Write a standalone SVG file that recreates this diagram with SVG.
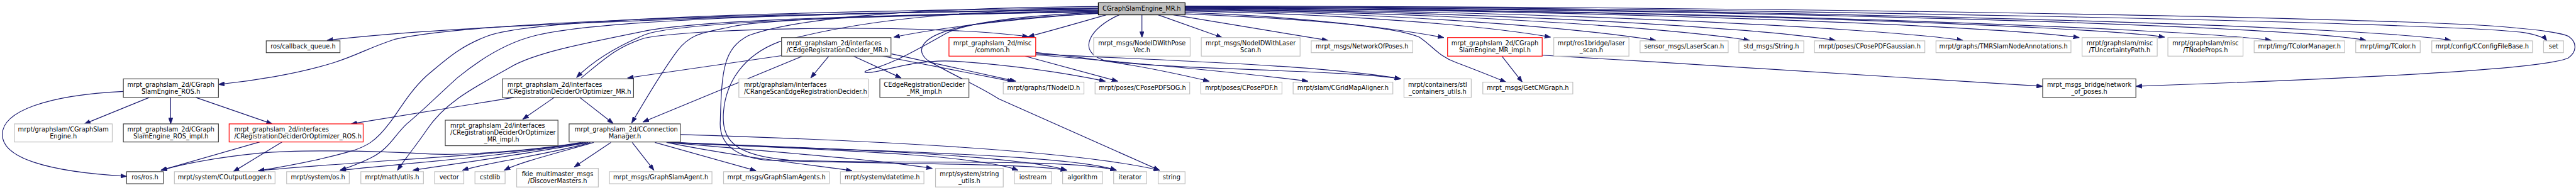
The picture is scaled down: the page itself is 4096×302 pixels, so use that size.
<svg xmlns="http://www.w3.org/2000/svg" width="4096" height="302" viewBox="0 0 4096 302">
<style>
.n rect{fill:#fff;stroke-width:1.6}
.d rect{stroke:#404040}
.g rect{stroke:#bfbfbf}
.r rect{stroke:#ff0000}
.m rect{fill:#bfbfbf;stroke:#000}
text{font-family:"DejaVu Sans",sans-serif;font-size:13.33px;fill:#000;text-anchor:middle}
text.s{text-anchor:start}
#edges path{fill:none;stroke:#191970;stroke-width:1.6;marker-end:url(#a)}
</style>
<defs><marker id="a" markerUnits="userSpaceOnUse" markerWidth="14" markerHeight="10" refX="13" refY="5" orient="auto" viewBox="0 0 14 10"><path d="M0,0.3 L13,5 L0,9.7 z" fill="#191970" stroke="#191970" stroke-width="1"/></marker></defs>
<rect width="4096" height="302" fill="#fff"/>
<g transform="scale(0.7375)">
<g id="edges">
<path d="M2368,19 C1800,28 1000,50 705,87"/>
<path d="M2368,22 C1500,30 1000,50 850,85 C790,105 780,115 720,135 C640,160 540,175 471,182"/>
<path d="M2368,25 C1800,35 1450,50 1390,75 C1330,100 1280,130 1243,167"/>
<path d="M2368,17 C1700,25 1150,40 1053,77 C990,100 960,130 920,163 C880,200 860,240 840,265 C810,305 790,315 760,325 C690,345 620,358 557,368"/>
<path d="M2368,20 C1800,28 1300,40 1153,77 C1080,95 1020,140 987,167 C950,200 910,240 877,267 C850,292 840,320 800,340 C780,350 760,358 733,367"/>
<path d="M2368,23 C1800,35 1500,45 1390,67 C1250,95 1150,115 1100,145 C1020,190 960,220 920,280 C900,310 875,340 857,367"/>
<path d="M2368,26 C2000,30 1650,40 1580,57 C1520,70 1490,70 1460,110 C1430,150 1400,200 1362,265"/>
<path d="M2368,28 C2200,40 2050,55 1927,80"/>
<path d="M2385,32 C2340,45 2270,65 2217,79"/>
<path d="M2462,32 L2462,81"/>
<path d="M2497,32 L2635,81"/>
<path d="M2530,32 L2863,87"/>
<path d="M2555,27 C2800,35 3000,60 3113,81"/>
<path d="M2555,24 C2900,30 3200,55 3343,80"/>
<path d="M2555,22 C3000,27 3400,60 3570,87"/>
<path d="M2555,21 C3100,25 3600,60 3772,87"/>
<path d="M2555,20 C3200,24 3800,60 3957,87"/>
<path d="M2555,19 C3300,22 4050,60 4232,87"/>
<path d="M2555,18 C3400,20 4300,55 4483,81"/>
<path d="M2555,17 C3500,20 4500,55 4667,80"/>
<path d="M2555,17 C3600,20 4700,60 4897,87"/>
<path d="M2555,16 C3700,18 4950,55 5101,87"/>
<path d="M2555,15 C3800,18 5100,55 5284,87"/>
<path d="M2555,14 C3800,16 5300,50 5440,70 C5470,75 5485,80 5491,88"/>
<path d="M2555,13 C3900,14 5200,40 5400,58 C5520,68 5537,77 5540,80 C5556,92 5556,112 5537,125 C5480,150 5100,168 4605,186"/>
<path d="M2555,30 C2800,40 3000,55 3060,80 C3090,100 3100,120 3140,135 C3180,150 3210,162 3247,177"/>
<path d="M3238,121 L3282,177"/>
<path d="M3325,119 C3700,140 4100,170 4404,186"/>
<path d="M2368,14 C1900,18 1700,45 1613,77 C1560,105 1556,150 1553,260 C1550,300 1570,335 1650,345 C1900,355 2200,350 2300,367"/>
<path d="M2368,18 C1950,25 1800,60 1680,90 C1600,120 1565,180 1560,240 C1555,300 1580,335 1700,345 C1950,355 2300,340 2407,367"/>
<path d="M2368,29 C2250,35 2100,45 2040,67 C1985,85 1975,110 2000,130 C2060,165 2110,185 2153,213 L2500,367"/>
<path d="M2368,27 C2200,33 2080,50 2040,72 C1990,100 1930,135 1885,147 C1855,155 1858,160 1895,153 C1950,140 2000,128 2060,132 C2200,142 2300,158 2383,175"/>
<path d="M2413,32 C2350,60 2320,110 2380,130 C2500,150 2900,150 3020,170"/>
<path d="M2232,113 C2400,130 2500,150 2607,175"/>
<path d="M2232,118 C2500,140 2700,160 2820,175"/>
<path d="M2232,116 C2500,130 2850,140 3020,170"/>
<path d="M2210,121 L2410,175"/>
<path d="M1922,116 L2190,175"/>
<path d="M1903,121 L2185,176"/>
<path d="M1685,120 L1353,168"/>
<path d="M1730,121 L1386,263"/>
<path d="M1787,121 L1748,168"/>
<path d="M1840,121 L1943,168"/>
<path d="M1253,168 C1300,130 1330,100 1390,82 C1500,60 2000,50 2217,79"/>
<path d="M1108,210 L757,267"/>
<path d="M1195,210 L1127,257"/>
<path d="M1250,210 L1322,266"/>
<path d="M266,197 C100,205 5,240 5,290 C5,340 100,370 273,380"/>
<path d="M322,210 L182,267"/>
<path d="M368,210 L368,267"/>
<path d="M422,210 L587,267"/>
<path d="M560,306 L347,367"/>
<path d="M608,306 L503,370"/>
<path d="M1253,307 C1150,325 1000,335 930,332 C800,325 650,322 560,330 C460,340 400,352 347,367"/>
<path d="M1258,307 C1100,335 800,345 557,368"/>
<path d="M1263,307 C1100,335 900,350 733,367"/>
<path d="M1268,307 C1150,330 1000,350 890,367"/>
<path d="M1273,307 C1200,330 1050,350 997,367"/>
<path d="M1280,307 C1200,330 1120,350 1087,367"/>
<path d="M1317,307 L1238,360"/>
<path d="M1363,307 L1410,367"/>
<path d="M1412,307 L1630,368"/>
<path d="M1437,307 C1600,340 1750,355 1837,368"/>
<path d="M1440,307 C1700,330 1900,345 2010,363"/>
<path d="M1443,307 C1700,320 2100,330 2195,367"/>
<path d="M1445,307 C1800,320 2200,335 2300,367"/>
<path d="M1447,307 C1800,325 2300,330 2407,367"/>
<path d="M1467,290 C1800,300 2300,320 2500,367"/>
</g>
<g id="n_main" class="n m"><rect x="2368" y="6" width="187" height="26"/><text x="2461.5" y="23">CGraphSlamEngine_MR.h</text></g>
<g id="n_cbq" class="n d"><rect x="574" y="88" width="159" height="25.5"/><text x="653.5" y="105">ros/callback_queue.h</text></g>
<g id="n_sros" class="n d"><rect x="266" y="170" width="205" height="40"/><text x="368.5" y="186.5">mrpt_graphslam_2d/CGraph</text><text x="368.5" y="201.5">SlamEngine_ROS.h</text></g>
<g id="n_gse" class="n g"><rect x="31" y="267" width="211" height="39"/><text x="136.5" y="283">mrpt/graphslam/CGraphSlam</text><text x="136.5" y="298">Engine.h</text></g>
<g id="n_srosimpl" class="n d"><rect x="266" y="267" width="205" height="39"/><text x="368.5" y="283">mrpt_graphslam_2d/CGraph</text><text x="368.5" y="298">SlamEngine_ROS_impl.h</text></g>
<g id="n_crdoros" class="n r"><rect x="494" y="267" width="289" height="39"/><text class="s" x="505" y="283">mrpt_graphslam_2d/interfaces</text><text class="s" x="505" y="298">/CRegistrationDeciderOrOptimizer_ROS.h</text></g>
<g id="n_rosh" class="n d"><rect x="273" y="370" width="79" height="26"/><text x="312.5" y="387">ros/ros.h</text></g>
<g id="n_col" class="n g"><rect x="376" y="370" width="217" height="26"/><text x="484.5" y="387">mrpt/system/COutputLogger.h</text></g>
<g id="n_os" class="n g"><rect x="618" y="370" width="135" height="26"/><text x="685.5" y="387">mrpt/system/os.h</text></g>
<g id="n_mu" class="n g"><rect x="778" y="370" width="135" height="26"/><text x="845.5" y="387">mrpt/math/utils.h</text></g>
<g id="n_vec" class="n g"><rect x="937" y="370" width="63" height="26"/><text x="968.5" y="387">vector</text></g>
<g id="n_csl" class="n g"><rect x="1024" y="370" width="65" height="26"/><text x="1056.5" y="387">cstdlib</text></g>
<g id="n_fkie" class="n g"><rect x="1114" y="363" width="176" height="40"/><text x="1202" y="379.5">fkie_multimaster_msgs</text><text x="1202" y="394.5">/DiscoverMasters.h</text></g>
<g id="n_gsa" class="n g"><rect x="1314" y="370" width="221" height="26"/><text x="1424.5" y="387">mrpt_msgs/GraphSlamAgent.h</text></g>
<g id="n_gsas" class="n g"><rect x="1560" y="370" width="228" height="26"/><text x="1674" y="387">mrpt_msgs/GraphSlamAgents.h</text></g>
<g id="n_dt" class="n g"><rect x="1812" y="370" width="180" height="26"/><text x="1902" y="387">mrpt/system/datetime.h</text></g>
<g id="n_su" class="n g"><rect x="2017" y="363" width="146" height="40"/><text x="2090" y="379.5">mrpt/system/string</text><text x="2090" y="394.5">_utils.h</text></g>
<g id="n_ios" class="n g"><rect x="2187" y="370" width="80" height="26"/><text x="2227" y="387">iostream</text></g>
<g id="n_alg" class="n g"><rect x="2291" y="370" width="86" height="26"/><text x="2334" y="387">algorithm</text></g>
<g id="n_itr" class="n g"><rect x="2401" y="370" width="71" height="26"/><text x="2436.5" y="387">iterator</text></g>
<g id="n_str" class="n g"><rect x="2497" y="370" width="58" height="26"/><text x="2526" y="387">string</text></g>
<g id="n_crdomr" class="n d"><rect x="1083" y="170" width="283" height="40"/><text class="s" x="1094" y="186.5">mrpt_graphslam_2d/interfaces</text><text class="s" x="1094" y="201.5">/CRegistrationDeciderOrOptimizer_MR.h</text></g>
<g id="n_crdomrimpl" class="n d"><rect x="960" y="259" width="243" height="55"/><text class="s" x="971" y="275">mrpt_graphslam_2d/interfaces</text><text class="s" x="971" y="290">/CRegistrationDeciderOrOptimizer</text><text x="1081.5" y="305">_MR_impl.h</text></g>
<g id="n_ccm" class="n d"><rect x="1227" y="267" width="240" height="39"/><text class="s" x="1239" y="283">mrpt_graphslam_2d/CConnection</text><text x="1347" y="298">Manager.h</text></g>
<g id="n_cerdmr" class="n d"><rect x="1685" y="81" width="236" height="40"/><text class="s" x="1696" y="97.5">mrpt_graphslam_2d/interfaces</text><text class="s" x="1696" y="112.5">/CEdgeRegistrationDecider_MR.h</text></g>
<g id="n_crs" class="n g"><rect x="1593" y="170" width="279" height="40"/><text class="s" x="1604" y="186.5">mrpt/graphslam/interfaces</text><text class="s" x="1604" y="201.5">/CRangeScanEdgeRegistrationDecider.h</text></g>
<g id="n_cerdimpl" class="n d"><rect x="1897" y="170" width="192" height="40"/><text x="1993" y="186.5">CEdgeRegistrationDecider</text><text x="1993" y="201.5">_MR_impl.h</text></g>
<g id="n_common" class="n r"><rect x="2046" y="81" width="187" height="40"/><text x="2139.5" y="97.5">mrpt_graphslam_2d/misc</text><text x="2139.5" y="112.5">/common.h</text></g>
<g id="n_tnid" class="n g"><rect x="2163" y="177" width="174" height="25.5"/><text x="2250" y="194">mrpt/graphs/TNodeID.h</text></g>
<g id="n_sog" class="n g"><rect x="2361" y="177" width="204" height="25.5"/><text x="2463" y="194">mrpt/poses/CPosePDFSOG.h</text></g>
<g id="n_pdf" class="n g"><rect x="2589" y="177" width="175" height="25.5"/><text x="2676.5" y="194">mrpt/poses/CPosePDF.h</text></g>
<g id="n_gma" class="n g"><rect x="2788" y="177" width="215" height="25.5"/><text x="2895.5" y="194">mrpt/slam/CGridMapAligner.h</text></g>
<g id="n_stl" class="n g"><rect x="3027" y="170" width="145" height="40"/><text x="3099.5" y="186.5">mrpt/containers/stl</text><text x="3099.5" y="201.5">_containers_utils.h</text></g>
<g id="n_cmg" class="n g"><rect x="3197" y="177" width="194" height="25.5"/><text x="3294" y="194">mrpt_msgs/GetCMGraph.h</text></g>
<g id="n_nop" class="n d"><rect x="4404" y="170" width="201" height="40"/><text x="4504.5" y="186.5">mrpt_msgs_bridge/network</text><text x="4504.5" y="201.5">_of_poses.h</text></g>
<g id="n_pv" class="n g"><rect x="2358" y="81" width="208" height="40"/><text x="2462" y="97.5">mrpt_msgs/NodeIDWithPose</text><text x="2462" y="112.5">Vec.h</text></g>
<g id="n_ls" class="n g"><rect x="2590" y="81" width="213" height="40"/><text x="2696.5" y="97.5">mrpt_msgs/NodeIDWithLaser</text><text x="2696.5" y="112.5">Scan.h</text></g>
<g id="n_nwp" class="n g"><rect x="2827" y="88" width="219" height="25.5"/><text x="2936.5" y="105">mrpt_msgs/NetworkOfPoses.h</text></g>
<g id="n_mri" class="n r"><rect x="3121" y="81" width="204" height="40"/><text x="3223" y="97.5">mrpt_graphslam_2d/CGraph</text><text x="3223" y="112.5">SlamEngine_MR_impl.h</text></g>
<g id="n_rb" class="n g"><rect x="3350" y="81" width="162" height="40"/><text x="3431" y="97.5">mrpt/ros1bridge/laser</text><text x="3431" y="112.5">_scan.h</text></g>
<g id="n_lsc" class="n g"><rect x="3536" y="88" width="190" height="25.5"/><text x="3631" y="105">sensor_msgs/LaserScan.h</text></g>
<g id="n_sts" class="n g"><rect x="3749" y="88" width="140" height="25.5"/><text x="3819" y="105">std_msgs/String.h</text></g>
<g id="n_gau" class="n g"><rect x="3912" y="88" width="238" height="25.5"/><text x="4031" y="105">mrpt/poses/CPosePDFGaussian.h</text></g>
<g id="n_tmr" class="n g"><rect x="4174" y="88" width="291" height="25.5"/><text x="4319.5" y="105">mrpt/graphs/TMRSlamNodeAnnotations.h</text></g>
<g id="n_tup" class="n g"><rect x="4489" y="81" width="162" height="40"/><text x="4570" y="97.5">mrpt/graphslam/misc</text><text x="4570" y="112.5">/TUncertaintyPath.h</text></g>
<g id="n_tnp" class="n g"><rect x="4674" y="81" width="162" height="40"/><text x="4755" y="97.5">mrpt/graphslam/misc</text><text x="4755" y="112.5">/TNodeProps.h</text></g>
<g id="n_tcm" class="n g"><rect x="4860" y="88" width="195" height="25.5"/><text x="4957.5" y="105">mrpt/img/TColorManager.h</text></g>
<g id="n_tc" class="n g"><rect x="5079" y="88" width="139" height="25.5"/><text x="5148.5" y="105">mrpt/img/TColor.h</text></g>
<g id="n_cfb" class="n g"><rect x="5243" y="88" width="217" height="25.5"/><text x="5351.5" y="105">mrpt/config/CConfigFileBase.h</text></g>
<g id="n_set" class="n g"><rect x="5484" y="88" width="43" height="25.5"/><text x="5505.5" y="105">set</text></g>
</g>
</svg>
